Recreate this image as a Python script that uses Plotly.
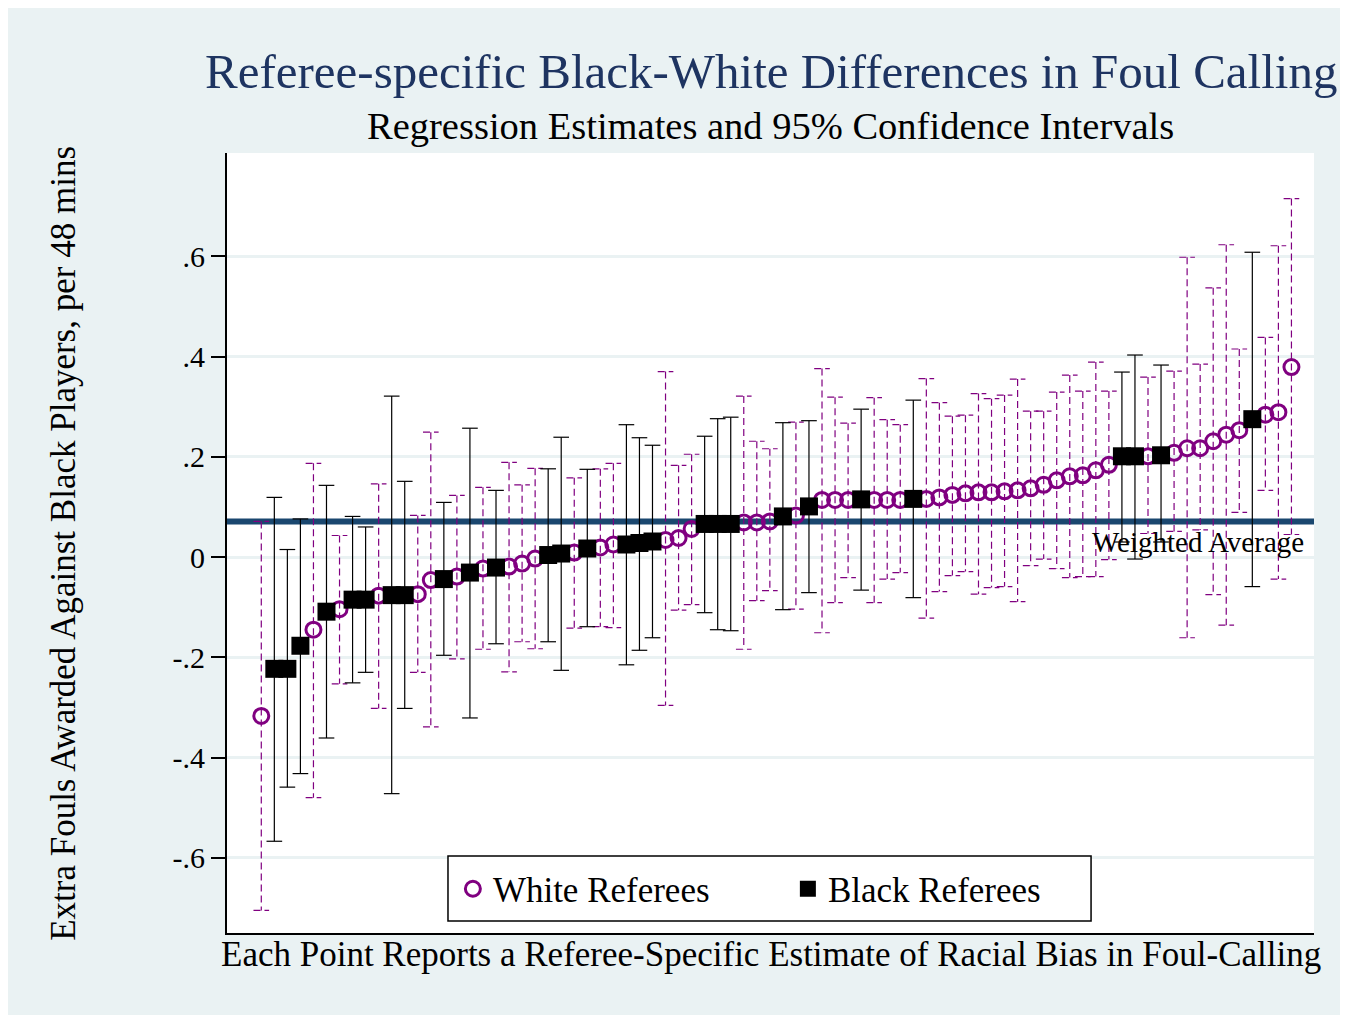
import plotly.graph_objects as go

# ---- data (referees sorted by estimate) ----
race = ["W","B","B","B","W","B","W","B","B","W",
        "B","B","W","W","B","W","B","W","B","W",
        "W","W","B","B","W","B","W","W","B","B",
        "B","W","W","W","B","B","B","W","W","W",
        "B","W","B","W","W","W","B","W","W","W",
        "B","W","W","W","W","W","W","W","W","W",
        "W","W","W","W","W","W","B","B","W","B",
        "W","W","W","W","W","W","B","W","W","W"]
est = [-0.317,-0.223,-0.223,-0.177,-0.145,-0.109,-0.104,-0.085,-0.085,-0.077,
       -0.076,-0.076,-0.074,-0.046,-0.044,-0.039,-0.031,-0.023,-0.021,-0.019,
       -0.013,-0.003,0.004,0.007,0.009,0.017,0.019,0.025,0.025,0.028,
       0.031,0.034,0.038,0.056,0.066,0.066,0.066,0.069,0.069,0.071,
       0.081,0.083,0.101,0.114,0.114,0.114,0.115,0.114,0.114,0.114,
       0.116,0.116,0.119,0.124,0.127,0.129,0.129,0.131,0.133,0.137,
       0.144,0.153,0.161,0.163,0.173,0.184,0.201,0.201,0.201,0.203,
       0.208,0.217,0.217,0.231,0.244,0.253,0.275,0.284,0.289,0.379]
ci_hi = [0.071,0.119,0.015,0.076,0.187,0.143,0.043,0.081,0.060,0.146,
         0.321,0.151,0.083,0.249,0.109,0.123,0.257,0.139,0.133,0.189,
         0.144,0.177,0.176,0.239,0.158,0.175,0.176,0.187,0.264,0.238,
         0.223,0.370,0.183,0.205,0.241,0.276,0.279,0.321,0.231,0.216,
         0.268,0.269,0.272,0.376,0.319,0.267,0.295,0.318,0.274,0.264,
         0.313,0.356,0.308,0.281,0.283,0.326,0.316,0.323,0.355,0.291,
         0.291,0.329,0.363,0.331,0.389,0.331,0.369,0.403,0.359,0.383,
         0.371,0.598,0.385,0.537,0.623,0.415,0.608,0.438,0.621,0.715]
ci_lo = [-0.705,-0.567,-0.459,-0.432,-0.480,-0.361,-0.253,-0.251,-0.230,-0.302,
         -0.472,-0.302,-0.230,-0.339,-0.196,-0.203,-0.321,-0.184,-0.173,-0.229,
         -0.169,-0.183,-0.169,-0.226,-0.142,-0.139,-0.139,-0.141,-0.215,-0.186,
         -0.161,-0.296,-0.106,-0.095,-0.111,-0.145,-0.147,-0.184,-0.087,-0.067,
         -0.105,-0.104,-0.071,-0.151,-0.091,-0.041,-0.066,-0.091,-0.044,-0.031,
         -0.081,-0.122,-0.069,-0.037,-0.029,-0.074,-0.061,-0.059,-0.089,-0.017,
         -0.004,-0.023,-0.041,-0.039,-0.039,-0.005,0.030,-0.004,0.047,0.030,
         0.051,-0.161,0.054,-0.075,-0.136,0.089,-0.059,0.133,-0.044,0.045]
weighted_avg = 0.071
y_ticks = [-0.6, -0.4, -0.2, 0, 0.2, 0.4, 0.6]
y_tick_labels = ["-.6", "-.4", "-.2", "0", ".2", ".4", ".6"]

rank = list(range(1, len(est) + 1))
CAP = 0.6
FONT = "Liberation Serif"
PURPLE = "#800080"


def cap_paths(group):
    xs, ys = [], []
    for r, g, lo, hi in zip(rank, race, ci_lo, ci_hi):
        if g != group:
            continue
        xs += [r - CAP, r + CAP, None, r, r, None, r - CAP, r + CAP, None]
        ys += [hi, hi, None, hi, lo, None, lo, lo, None]
    return xs, ys


fig = go.Figure()

wx, wy = cap_paths("W")
fig.add_trace(go.Scatter(x=wx, y=wy, mode="lines", showlegend=False, hoverinfo="skip",
                         line=dict(color=PURPLE, width=1.2, dash="7px,4px")))
bx, by = cap_paths("B")
fig.add_trace(go.Scatter(x=bx, y=by, mode="lines", showlegend=False, hoverinfo="skip",
                         line=dict(color="black", width=1.2)))

fig.add_trace(go.Scatter(
    x=[r for r, g in zip(rank, race) if g == "W"],
    y=[e for e, g in zip(est, race) if g == "W"],
    mode="markers", name="White Referees",
    marker=dict(symbol="circle-open", size=15, color=PURPLE, line=dict(width=3, color=PURPLE))))
fig.add_trace(go.Scatter(
    x=[r for r, g in zip(rank, race) if g == "B"],
    y=[e for e, g in zip(est, race) if g == "B"],
    mode="markers", name="Black Referees",
    marker=dict(symbol="square", size=18, color="black")))

fig.add_shape(type="line", xref="paper", x0=0, x1=1, yref="y", y0=weighted_avg, y1=weighted_avg,
              line=dict(color="#1a476f", width=6), layer="below")
# legend frame
fig.add_shape(type="rect", xref="paper", yref="paper", x0=0.2033, x1=0.7949, y0=0.0154, y1=0.0987,
              line=dict(color="black", width=1.5), fillcolor="white", layer="above")
fig.add_annotation(x=81.1, y=weighted_avg - 0.006, xref="x", yref="y", text="Weighted Average",
                   showarrow=False, xanchor="right", yanchor="top",
                   font=dict(family=FONT, size=29, color="black"))

fig.add_annotation(x=0.5, y=1.104, xref="paper", yref="paper", showarrow=False,
                   text="Referee-specific Black-White Differences in Foul Calling",
                   xanchor="center", yanchor="middle",
                   font=dict(family=FONT, size=49, color="#1e3461"))
fig.add_annotation(x=0.5, y=1.034, xref="paper", yref="paper", showarrow=False,
                   text="Regression Estimates and 95% Confidence Intervals",
                   xanchor="center", yanchor="middle",
                   font=dict(family=FONT, size=38.5, color="black"))
fig.add_annotation(x=0.5, y=-0.027, xref="paper", yref="paper", showarrow=False,
                   text="Each Point Reports a Referee-Specific Estimate of Racial Bias in Foul-Calling",
                   xanchor="center", yanchor="middle",
                   font=dict(family=FONT, size=35, color="black"))
fig.add_annotation(x=-0.151, y=0.5, xref="paper", yref="paper", showarrow=False, textangle=-90,
                   text="Extra Fouls Awarded Against Black Players, per 48 mins",
                   xanchor="center", yanchor="middle",
                   font=dict(family=FONT, size=35, color="black"))

fig.update_layout(
    width=1348, height=1015,
    margin=dict(l=219, r=42, t=145, b=90),
    paper_bgcolor="#eaf2f3", plot_bgcolor="white",
    font=dict(family=FONT, color="black"),
    showlegend=True,
    legend=dict(orientation="h", x=0.2078, xanchor="left", y=0.0564, yanchor="middle",
                bgcolor="rgba(0,0,0,0)", borderwidth=0,
                font=dict(family=FONT, size=35, color="black"),
                entrywidth=290, itemsizing="trace"),
)
fig.update_xaxes(range=[-1.63, 81.73], showgrid=False, zeroline=False, showticklabels=False,
                 ticks="", showline=True, linecolor="black", linewidth=2)
fig.update_yaxes(range=[-0.750, 0.806], tickvals=y_ticks, ticktext=y_tick_labels,
                 showgrid=True, gridcolor="#eaf2f3", gridwidth=2.5, zeroline=False,
                 ticks="outside", ticklen=14, tickwidth=2, tickcolor="black",
                 showline=True, linecolor="black", linewidth=2,
                 tickfont=dict(family=FONT, size=30, color="black"))

fig.write_html("out.html")
